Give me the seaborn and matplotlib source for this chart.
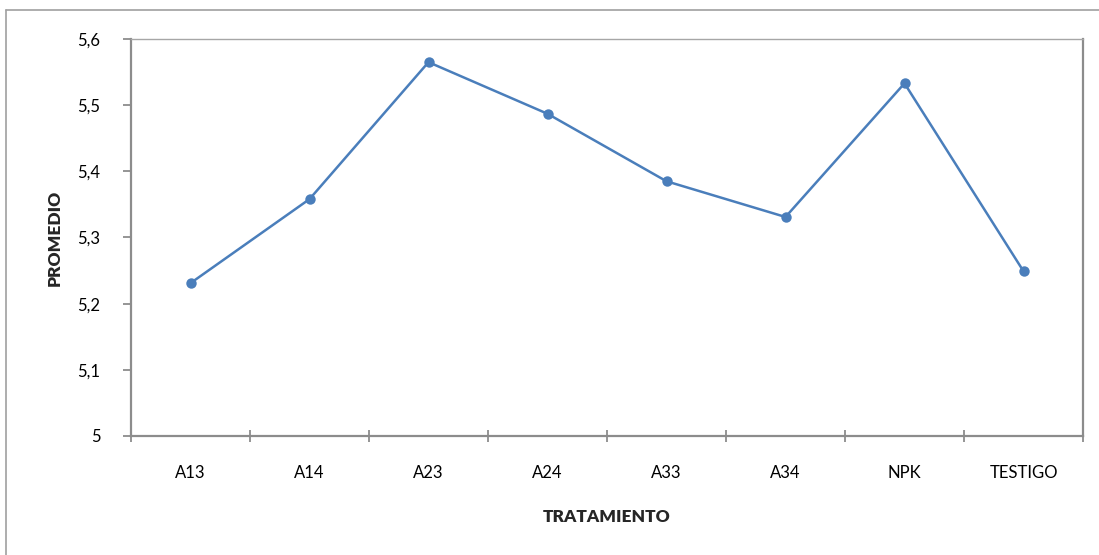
import numpy as np
import pandas as pd
import seaborn as sns
import matplotlib.pyplot as plt
from matplotlib.lines import Line2D
from matplotlib.ticker import FuncFormatter, FixedLocator

tratamientos = ["A13", "A14", "A23", "A24", "A33", "A34", "NPK", "TESTIGO"]
promedios = [5.231, 5.358, 5.565, 5.487, 5.385, 5.331, 5.533, 5.249]
y_ticks = [5.0, 5.1, 5.2, 5.3, 5.4, 5.5, 5.6]

df = pd.DataFrame({"TRATAMIENTO": tratamientos, "PROMEDIO": promedios})

sns.set_theme(style="white")
plt.rcParams["font.family"] = ["Lato", "DejaVu Sans"]

W, H = 1099, 555
fig = plt.figure(figsize=(W / 100, H / 100), dpi=100)
ax = fig.add_axes([131 / W, 1 - 436 / H, (1083 - 131) / W, (436 - 39) / H])

sns.lineplot(data=df, x="TRATAMIENTO", y="PROMEDIO", sort=False, ax=ax,
             color="#4A7EBB", linewidth=1.8, marker="o", markersize=7.5,
             markeredgewidth=0, markerfacecolor="#4A7EBB")

axis_grey = "#8C8C8C"
n = len(tratamientos)
ax.set_xlim(-0.5, n - 0.5)
ax.set_ylim(y_ticks[0], y_ticks[-1])

# category boundaries carry the tick marks, centres carry the labels
ax.xaxis.set_major_locator(FixedLocator(np.arange(-0.5, n, 1.0)))
ax.xaxis.set_minor_locator(FixedLocator(np.arange(n)))
ax.set_xticklabels([""] * (n + 1))
ax.set_xticklabels(tratamientos, minor=True)
ax.tick_params(axis="x", which="major", direction="inout", length=9,
               width=1.3, color=axis_grey, bottom=True)
ax.tick_params(axis="x", which="minor", length=0, pad=21, labelsize=12,
               labelcolor="black")

ax.set_yticks(y_ticks)
ax.yaxis.set_major_formatter(FuncFormatter(
    lambda v, _: "5" if abs(v - 5) < 1e-9 else f"{v:.1f}".replace(".", ",")))
ax.tick_params(axis="y", direction="out", length=6, width=1.3,
               color=axis_grey, left=True, pad=16, labelsize=12,
               labelcolor="black")

for side in ["left", "bottom", "right", "top"]:
    ax.spines[side].set_visible(True)
    ax.spines[side].set_color(axis_grey)
    ax.spines[side].set_linewidth(1.6)
ax.spines["top"].set_color("#A6A6A6")
ax.spines["top"].set_linewidth(1.0)

ax.set_xlabel("TRATAMIENTO", fontsize=12.5, fontweight="heavy")
ax.set_ylabel("PROMEDIO", fontsize=12.5, fontweight="heavy")
ax.xaxis.set_label_coords((607 - 131) / (1083 - 131), -(509 - 436) / (436 - 39))
ax.yaxis.set_label_coords(-(131 - 63) / (1083 - 131), 0.5)

# chart-area frame (left and top edges)
frame_c = "#A0A0A0"
fig.add_artist(Line2D([6 / W, 6 / W], [0, 1 - 10 / H], transform=fig.transFigure,
                      color=frame_c, linewidth=1.2))
fig.add_artist(Line2D([6 / W, 1], [1 - 10 / H, 1 - 10 / H], transform=fig.transFigure,
                      color=frame_c, linewidth=1.2))

fig.savefig("out.png", dpi=100)
